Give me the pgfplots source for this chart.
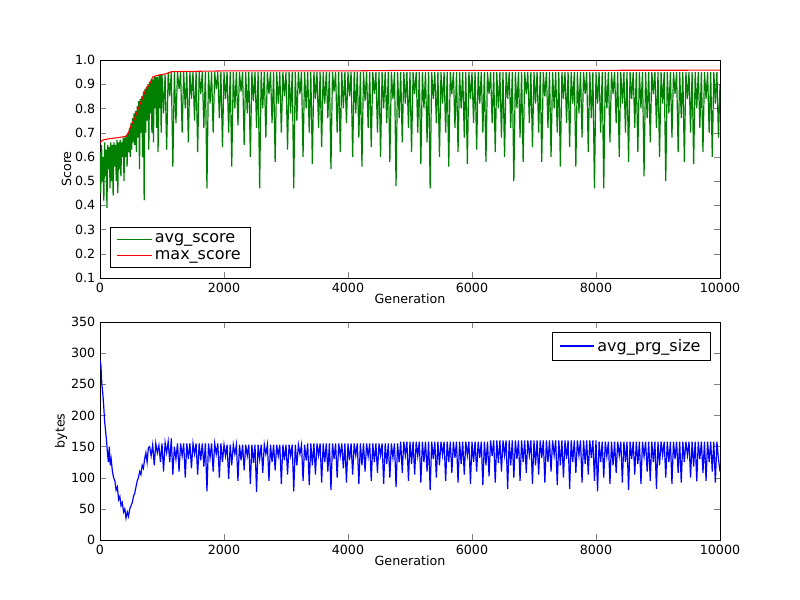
\documentclass[border=0pt]{standalone}
\usepackage{pgfplots}
\pgfplotsset{compat=1.18}
\usepackage{fontspec}
\setmainfont{DejaVu Sans}
\definecolor{mgreen}{RGB}{0,128,0}
\begin{document}
\begin{tikzpicture}
\pgfplotsset{every axis/.append style={scale only axis,width=465pt,height=163.5pt,
 xmin=0,xmax=10000,tick align=inside,font=\fontsize{9.5}{11}\selectfont,
 xtick={0,2000,4000,6000,8000,10000},scaled x ticks=false,
 /pgf/number format/assume math mode=true,
 /pgf/number format/1000 sep={},
 xlabel={Generation},xlabel style={yshift=6pt},
 legend style={font=\fontsize{12}{16}\selectfont,draw=black,rounded corners=0pt,inner xsep=5pt,inner ysep=3pt},
 legend cell align=left,
 legend image code/.code={\draw[mark repeat=2,mark phase=2,#1] plot coordinates {(0cm,0cm)(0.45cm,0cm)(0.9cm,0cm)};}}}
\begin{axis}[ymin=0.1,ymax=1.0,ytick={0.1,0.2,0.3,0.4,0.5,0.6,0.7,0.8,0.9,1.0},
 yticklabel style={/pgf/number format/fixed,/pgf/number format/precision=1,/pgf/number format/fixed zerofill},
 ylabel={Score},ylabel style={yshift=-4pt},
 legend style={at={(0.016,0.046)},anchor=south west}]
\addplot[mgreen,line width=0.9pt] coordinates {
(0,0.62)(12,0.45)(25,0.65)(37,0.5)(50,0.6)(62,0.42)(75,0.66)(87,0.52)(100,0.63)(112,0.39)
(125,0.65)(137,0.55)(150,0.64)(162,0.47)(175,0.66)(187,0.5)(200,0.65)(212,0.44)(225,0.66)(237,0.56)
(250,0.65)(262,0.5)(275,0.67)(287,0.45)(300,0.66)(312,0.55)(325,0.67)(337,0.52)(350,0.66)(362,0.6)
(375,0.68)(387,0.5)(400,0.68)(412,0.6)(425,0.69)(437,0.56)(450,0.7)(462,0.62)(475,0.72)(487,0.6)
(500,0.74)(512,0.63)(525,0.76)(537,0.66)(550,0.78)(562,0.65)(575,0.79)(587,0.62)(600,0.81)(612,0.68)
(625,0.83)(637,0.55)(650,0.84)(662,0.7)(675,0.85)(687,0.6)(700,0.87)(712,0.42)(725,0.88)(737,0.7)
(750,0.89)(762,0.75)(775,0.9)(787,0.63)(800,0.91)(812,0.78)(825,0.92)(837,0.7)(850,0.92)(862,0.66)
(875,0.93)(887,0.8)(900,0.93)(912,0.72)(925,0.93)(937,0.62)(950,0.94)(962,0.8)(975,0.94)(987,0.7)
(1000,0.94)(1025,0.78)(1050,0.94)(1075,0.63)(1100,0.95)(1125,0.85)(1150,0.95)(1175,0.56)(1200,0.95)(1225,0.74)
(1250,0.95)(1275,0.88)(1300,0.95)(1325,0.7)(1350,0.95)(1375,0.8)(1400,0.95)(1425,0.66)(1450,0.95)(1475,0.84)
(1500,0.95)(1525,0.75)(1550,0.95)(1575,0.62)(1600,0.95)(1625,0.86)(1650,0.95)(1675,0.72)(1700,0.95)(1725,0.47)
(1750,0.95)(1775,0.82)(1800,0.95)(1825,0.7)(1850,0.95)(1875,0.88)(1900,0.95)(1925,0.76)(1950,0.95)(1975,0.64)
(2000,0.95)(2025,0.84)(2050,0.95)(2075,0.7)(2100,0.95)(2125,0.56)(2150,0.95)(2175,0.8)(2200,0.95)(2225,0.73)
(2250,0.95)(2275,0.87)(2300,0.95)(2325,0.65)(2350,0.95)(2375,0.78)(2400,0.95)(2425,0.6)(2450,0.95)(2475,0.83)
(2500,0.95)(2525,0.72)(2550,0.95)(2575,0.47)(2600,0.95)(2625,0.8)(2650,0.95)(2675,0.68)(2700,0.95)(2725,0.86)
(2750,0.95)(2775,0.74)(2800,0.95)(2825,0.58)(2850,0.95)(2875,0.82)(2900,0.95)(2925,0.7)(2950,0.95)(2975,0.85)
(3000,0.95)(3025,0.63)(3050,0.95)(3075,0.78)(3100,0.95)(3125,0.47)(3150,0.95)(3175,0.75)(3200,0.95)(3225,0.86)
(3250,0.95)(3275,0.6)(3300,0.95)(3325,0.8)(3350,0.95)(3375,0.7)(3400,0.95)(3425,0.57)(3450,0.95)(3475,0.84)
(3500,0.95)(3525,0.72)(3550,0.95)(3575,0.64)(3600,0.95)(3625,0.82)(3650,0.95)(3675,0.76)(3700,0.95)(3725,0.55)
(3750,0.95)(3775,0.87)(3800,0.95)(3825,0.7)(3850,0.95)(3875,0.62)(3900,0.95)(3925,0.8)(3950,0.95)(3975,0.74)
(4000,0.95)(4025,0.85)(4050,0.95)(4075,0.6)(4100,0.95)(4125,0.78)(4150,0.95)(4175,0.68)(4200,0.95)(4225,0.56)
(4250,0.95)(4275,0.83)(4300,0.95)(4325,0.72)(4350,0.95)(4375,0.64)(4400,0.95)(4425,0.86)(4450,0.95)(4475,0.7)
(4500,0.95)(4525,0.6)(4550,0.95)(4575,0.8)(4600,0.95)(4625,0.74)(4650,0.95)(4675,0.58)(4700,0.95)(4725,0.84)
(4750,0.95)(4775,0.48)(4800,0.95)(4825,0.76)(4850,0.95)(4875,0.66)(4900,0.95)(4925,0.82)(4950,0.95)(4975,0.72)
(5000,0.95)(5025,0.62)(5050,0.95)(5075,0.86)(5100,0.95)(5125,0.7)(5150,0.95)(5175,0.57)(5200,0.95)(5225,0.8)
(5250,0.95)(5275,0.66)(5300,0.95)(5325,0.47)(5350,0.95)(5375,0.84)(5400,0.95)(5425,0.74)(5450,0.95)(5475,0.6)
(5500,0.95)(5525,0.82)(5550,0.95)(5575,0.7)(5600,0.95)(5625,0.56)(5650,0.95)(5675,0.86)(5700,0.95)(5725,0.72)
(5750,0.95)(5775,0.62)(5800,0.95)(5825,0.8)(5850,0.95)(5875,0.68)(5900,0.95)(5925,0.57)(5950,0.95)(5975,0.84)
(6000,0.95)(6025,0.74)(6050,0.95)(6075,0.63)(6100,0.95)(6125,0.82)(6150,0.95)(6175,0.7)(6200,0.95)(6225,0.58)
(6250,0.95)(6275,0.86)(6300,0.95)(6325,0.74)(6350,0.95)(6375,0.62)(6400,0.95)(6425,0.8)(6450,0.95)(6475,0.68)
(6500,0.95)(6525,0.6)(6550,0.95)(6575,0.84)(6600,0.95)(6625,0.72)(6650,0.95)(6675,0.5)(6700,0.95)(6725,0.8)
(6750,0.95)(6775,0.68)(6800,0.95)(6825,0.58)(6850,0.95)(6875,0.86)(6900,0.95)(6925,0.74)(6950,0.95)(6975,0.64)
(7000,0.95)(7025,0.82)(7050,0.95)(7075,0.7)(7100,0.95)(7125,0.58)(7150,0.95)(7175,0.85)(7200,0.95)(7225,0.72)
(7250,0.95)(7275,0.6)(7300,0.95)(7325,0.8)(7350,0.95)(7375,0.7)(7400,0.95)(7425,0.56)(7450,0.95)(7475,0.84)
(7500,0.95)(7525,0.74)(7550,0.95)(7575,0.64)(7600,0.95)(7625,0.82)(7650,0.95)(7675,0.56)(7700,0.95)(7725,0.78)
(7750,0.95)(7775,0.68)(7800,0.95)(7825,0.86)(7850,0.95)(7875,0.62)(7900,0.95)(7925,0.76)(7950,0.95)(7975,0.47)
(8000,0.95)(8025,0.82)(8050,0.95)(8075,0.7)(8100,0.95)(8125,0.47)(8150,0.95)(8175,0.8)(8200,0.95)(8225,0.66)
(8250,0.95)(8275,0.86)(8300,0.95)(8325,0.74)(8350,0.95)(8375,0.6)(8400,0.95)(8425,0.82)(8450,0.95)(8475,0.7)
(8500,0.95)(8525,0.58)(8550,0.95)(8575,0.84)(8600,0.95)(8625,0.72)(8650,0.95)(8675,0.62)(8700,0.95)(8725,0.8)
(8750,0.95)(8775,0.52)(8800,0.95)(8825,0.76)(8850,0.95)(8875,0.66)(8900,0.95)(8925,0.86)(8950,0.95)(8975,0.72)
(9000,0.95)(9025,0.6)(9050,0.95)(9075,0.82)(9100,0.95)(9125,0.5)(9150,0.95)(9175,0.78)(9200,0.95)(9225,0.68)
(9250,0.95)(9275,0.86)(9300,0.95)(9325,0.62)(9350,0.95)(9375,0.76)(9400,0.95)(9425,0.58)(9450,0.95)(9475,0.84)
(9500,0.95)(9525,0.7)(9550,0.95)(9575,0.57)(9600,0.95)(9625,0.8)(9650,0.95)(9675,0.72)(9700,0.95)(9725,0.62)
(9750,0.95)(9775,0.84)(9800,0.95)(9825,0.7)(9850,0.95)(9875,0.6)(9900,0.95)(9925,0.82)(9950,0.95)(9975,0.68)(10000,0.9)};
\addlegendentry{avg\_score}
\addplot[red,line width=0.8pt] coordinates {
(0,0.66)(50,0.67)(150,0.675)(300,0.68)(420,0.685)(460,0.7)(500,0.73)(560,0.76)(620,0.8)(680,0.84)(740,0.88)(800,0.9)(850,0.93)(900,0.935)(1000,0.94)(1100,0.945)(1150,0.952)(2000,0.955)(4000,0.955)(4800,0.957)(6000,0.957)(10000,0.958)};
\addlegendentry{max\_score}
\end{axis}
\begin{axis}[at={(0,-196.5pt)},ymin=0,ymax=350,ytick={0,50,100,150,200,250,300,350},
 ylabel={bytes},ylabel style={yshift=-4pt},
 legend style={at={(0.984,0.954)},anchor=north east}]
\addplot[blue,line width=0.9pt] coordinates {
(0,290)(15,280)(30,250)(45,235)(60,215)(75,190)(90,175)(105,160)(120,140)(135,125)(150,150)(165,120)(180,130)(200,110)
(220,100)(240,95)(260,80)(280,85)(300,65)(320,70)(340,55)(360,60)(380,45)(400,50)(420,35)(440,45)(460,38)(480,50)
(500,55)(520,60)(540,70)(560,75)(580,85)(600,95)(620,100)(640,110)(660,105)(680,120)(700,115)(720,130)(740,140)
(760,125)(780,148)(800,150)(825,135)(850,153)(875,120)(900,155)(925,140)(950,152)(975,125)(1000,155)(1025,110)
(1050,156)(1075,140)(1100,158)(1125,125)(1150,163)(1175,105)(1200,150)(1225,130)
(1250,155)(1275,110)(1300,155)(1325,135)(1350,155)(1375,100)(1400,155)(1425,130)(1450,155)(1475,115)
(1500,155)(1525,138)(1550,155)(1575,105)(1600,155)(1625,128)(1650,155)(1675,118)(1700,155)(1725,78)
(1750,155)(1775,132)(1800,155)(1825,110)(1850,155)(1875,138)(1900,155)(1925,100)(1950,155)(1975,125)
(2000,153)(2025,135)(2050,153)(2075,98)(2100,153)(2125,120)(2150,153)(2175,138)(2200,153)(2225,95)
(2250,153)(2275,128)(2300,153)(2325,112)(2350,153)(2375,135)(2400,153)(2425,90)(2450,153)(2475,124)
(2500,153)(2525,77)(2550,153)(2575,130)(2600,153)(2625,108)(2650,153)(2675,138)(2700,153)(2725,95)
(2750,153)(2775,125)(2800,153)(2825,112)(2850,153)(2875,135)(2900,153)(2925,90)(2950,153)(2975,128)
(3000,153)(3025,105)(3050,153)(3075,135)(3100,153)(3125,78)(3150,153)(3175,120)(3200,153)(3225,138)
(3250,153)(3275,95)(3300,153)(3325,128)(3350,155)(3375,88)(3400,155)(3425,120)(3450,155)(3475,105)
(3500,155)(3525,136)(3550,155)(3575,92)(3600,155)(3625,125)(3650,155)(3675,110)(3700,155)(3725,80)
(3750,155)(3775,130)(3800,155)(3825,100)(3850,155)(3875,135)(3900,155)(3925,115)(3950,155)(3975,92)
(4000,155)(4025,128)(4050,155)(4075,105)(4100,155)(4125,136)(4150,155)(4175,90)(4200,155)(4225,120)
(4250,155)(4275,110)(4300,155)(4325,134)(4350,155)(4375,95)(4400,155)(4425,125)(4450,155)(4475,108)
(4500,155)(4525,136)(4550,155)(4575,90)(4600,155)(4625,122)(4650,155)(4675,100)(4700,155)(4725,132)
(4750,155)(4775,85)(4800,155)(4825,125)(4850,158)(4875,108)(4900,158)(4925,136)(4950,158)(4975,95)
(5000,158)(5025,122)(5050,158)(5075,105)(5100,158)(5125,135)(5150,158)(5175,92)(5200,158)(5225,125)
(5250,158)(5275,110)(5300,158)(5325,80)(5350,158)(5375,130)(5400,158)(5425,100)(5450,158)(5475,120)
(5500,158)(5525,136)(5550,158)(5575,95)(5600,158)(5625,125)(5650,158)(5675,108)(5700,158)(5725,132)
(5750,158)(5775,92)(5800,158)(5825,122)(5850,158)(5875,105)(5900,158)(5925,136)(5950,158)(5975,90)
(6000,158)(6025,125)(6050,158)(6075,110)(6100,158)(6125,132)(6150,158)(6175,88)(6200,158)(6225,120)
(6250,158)(6275,102)(6300,160)(6325,135)(6350,160)(6375,92)(6400,160)(6425,124)(6450,160)(6475,110)
(6500,160)(6525,136)(6550,160)(6575,82)(6600,160)(6625,120)(6650,160)(6675,100)(6700,160)(6725,130)
(6750,160)(6775,95)(6800,160)(6825,125)(6850,160)(6875,108)(6900,160)(6925,136)(6950,160)(6975,90)
(7000,160)(7025,120)(7050,160)(7075,105)(7100,160)(7125,132)(7150,160)(7175,92)(7200,160)(7225,125)
(7250,160)(7275,110)(7300,160)(7325,136)(7350,160)(7375,88)(7400,160)(7425,120)(7450,160)(7475,100)
(7500,160)(7525,130)(7550,160)(7575,82)(7600,160)(7625,125)(7650,160)(7675,108)(7700,160)(7725,136)
(7750,160)(7775,92)(7800,160)(7825,122)(7850,160)(7875,105)(7900,160)(7925,132)(7950,160)(7975,95)
(8000,160)(8025,78)(8050,158)(8075,125)(8100,158)(8125,100)(8150,158)(8175,134)(8200,158)(8225,90)
(8250,158)(8275,120)(8300,158)(8325,108)(8350,158)(8375,136)(8400,158)(8425,92)(8450,158)(8475,125)
(8500,158)(8525,80)(8550,158)(8575,130)(8600,158)(8625,105)(8650,158)(8675,122)(8700,158)(8725,90)
(8750,158)(8775,134)(8800,158)(8825,110)(8850,158)(8875,95)(8900,158)(8925,125)(8950,158)(8975,82)
(9000,158)(9025,120)(9050,158)(9075,136)(9100,158)(9125,100)(9150,158)(9175,125)(9200,158)(9225,90)
(9250,158)(9275,130)(9300,158)(9325,108)(9350,158)(9375,92)(9400,158)(9425,125)(9450,158)(9475,136)
(9500,158)(9525,100)(9550,158)(9575,118)(9600,158)(9625,94)(9650,158)(9675,130)(9700,158)(9725,108)
(9750,158)(9775,95)(9800,158)(9825,125)(9850,158)(9875,110)(9900,158)(9925,92)(9950,158)(9975,130)(10000,110)};
\addlegendentry{avg\_prg\_size}
\end{axis}
\path (-75pt,-241.5pt) rectangle (525pt,208.5pt);
\end{tikzpicture}
\end{document}
